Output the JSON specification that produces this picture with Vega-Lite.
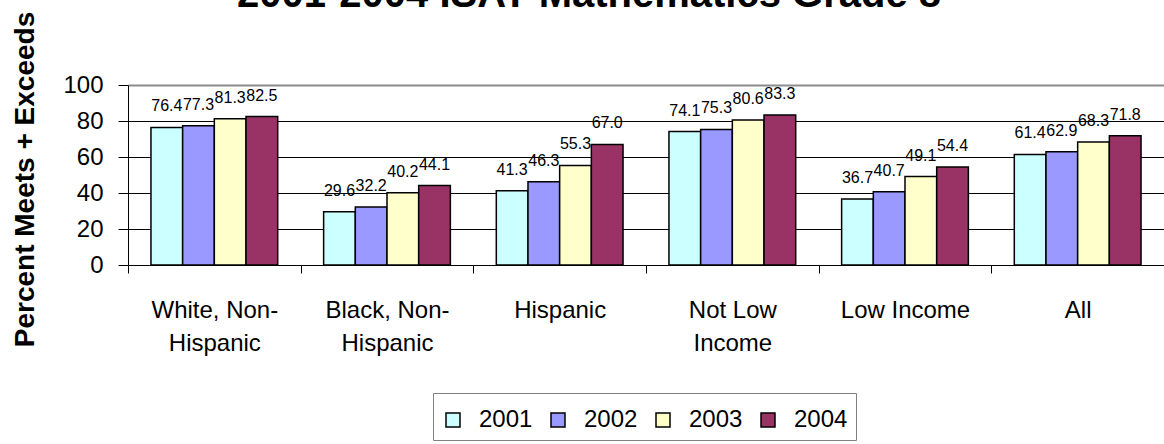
{
  "$schema": "https://vega.github.io/schema/vega-lite/v6.json",
  "autosize": {"type": "none"},
  "padding": {"left": 128, "top": 85, "right": 0, "bottom": 179},
  "width": 1036,
  "height": 180,
  "background": "white",
  "title": {
    "text": "2001-2004 ISAT Mathematics Grade 8",
    "font": "Liberation Sans",
    "fontSize": 40,
    "fontWeight": "bold",
    "color": "black",
    "anchor": "middle",
    "frame": "group",
    "baseline": "alphabetic",
    "offset": -36,
    "dx": -57
  },
  "data": {
    "values": [
      {"group": "White, Non-Hispanic", "year": "2001", "value": 76.4},
      {"group": "White, Non-Hispanic", "year": "2002", "value": 77.3},
      {"group": "White, Non-Hispanic", "year": "2003", "value": 81.3},
      {"group": "White, Non-Hispanic", "year": "2004", "value": 82.5},
      {"group": "Black, Non-Hispanic", "year": "2001", "value": 29.6},
      {"group": "Black, Non-Hispanic", "year": "2002", "value": 32.2},
      {"group": "Black, Non-Hispanic", "year": "2003", "value": 40.2},
      {"group": "Black, Non-Hispanic", "year": "2004", "value": 44.1},
      {"group": "Hispanic", "year": "2001", "value": 41.3},
      {"group": "Hispanic", "year": "2002", "value": 46.3},
      {"group": "Hispanic", "year": "2003", "value": 55.3},
      {"group": "Hispanic", "year": "2004", "value": 67.0},
      {"group": "Not Low Income", "year": "2001", "value": 74.1},
      {"group": "Not Low Income", "year": "2002", "value": 75.3},
      {"group": "Not Low Income", "year": "2003", "value": 80.6},
      {"group": "Not Low Income", "year": "2004", "value": 83.3},
      {"group": "Low Income", "year": "2001", "value": 36.7},
      {"group": "Low Income", "year": "2002", "value": 40.7},
      {"group": "Low Income", "year": "2003", "value": 49.1},
      {"group": "Low Income", "year": "2004", "value": 54.4},
      {"group": "All", "year": "2001", "value": 61.4},
      {"group": "All", "year": "2002", "value": 62.9},
      {"group": "All", "year": "2003", "value": 68.3},
      {"group": "All", "year": "2004", "value": 71.8}
    ]
  },
  "encoding": {
    "x": {
      "field": "group",
      "type": "nominal",
      "sort": null,
      "scale": {"paddingInner": 0.266, "paddingOuter": 0.133},
      "axis": {
        "title": null,
        "labelAngle": 0,
        "labelFontSize": 24,
        "labelFont": "Liberation Sans",
        "labelColor": "black",
        "labelBaseline": "top",
        "labelLineHeight": 33,
        "labelPadding": 25,
        "tickSize": 8,
        "tickColor": "black",
        "tickOffset": -86.3,
        "labelOffset": 86.3,
        "domainColor": "black",
        "domainWidth": 1,
        "grid": false,
        "labelExpr": "datum.value == 'Not Low Income' ? ['Not Low', 'Income'] : (indexof(datum.value, 'Non-') > 0 ? [slice(datum.value, 0, indexof(datum.value, 'Non-') + 4), slice(datum.value, indexof(datum.value, 'Non-') + 4)] : datum.value)"
      }
    },
    "xOffset": {"field": "year", "type": "nominal", "scale": {"paddingInner": 0, "paddingOuter": 0}},
    "y": {
      "field": "value",
      "type": "quantitative",
      "scale": {"domain": [0, 100], "nice": false},
      "axis": {
        "title": "Percent Meets + Exceeds",
        "titleFont": "Liberation Sans",
        "titleFontSize": 28,
        "titleFontWeight": "bold",
        "titleColor": "black",
        "titleAngle": -90,
        "titleX": -95,
        "titleY": 94,
        "titleAlign": "center",
        "titleBaseline": "alphabetic",
        "values": [0, 20, 40, 60, 80, 100],
        "labelFontSize": 24,
        "labelFont": "Liberation Sans",
        "labelColor": "black",
        "labelPadding": 15,
        "tickSize": 10,
        "tickColor": "black",
        "domainColor": "black",
        "grid": true,
        "gridColor": {"condition": {"test": "datum.value === 100", "value": "#8c8c8c"}, "value": "black"},
        "gridWidth": {"condition": {"test": "datum.value === 100", "value": 2}, "value": 1},
        "gridOpacity": 1
      }
    }
  },
  "layer": [
    {
      "mark": {"type": "bar", "stroke": "black", "strokeWidth": 1.5},
      "encoding": {
        "color": {
          "field": "year",
          "type": "nominal",
          "scale": {"domain": ["2001", "2002", "2003", "2004"], "range": ["#CCFFFF", "#9999FF", "#FFFFCC", "#993366"]},
          "legend": {
            "title": " ",
            "titleFontSize": 7,
            "titlePadding": 0,
            "orient": "none",
            "legendX": 305,
            "legendY": 308,
            "direction": "horizontal",
            "columns": 4,
            "symbolType": "square",
            "symbolSize": 196,
            "symbolStrokeColor": "black",
            "symbolStrokeWidth": 1.5,
            "symbolOpacity": 1,
            "labelFontSize": 24,
            "labelFont": "Liberation Sans",
            "labelColor": "black",
            "labelOffset": 14,
            "columnPadding": 13,
            "padding": 8,
            "strokeColor": "#808080",
            "fillColor": "white"
          }
        }
      }
    },
    {
      "mark": {"type": "text", "baseline": "alphabetic", "align": "center", "dy": -16, "fontSize": 16, "font": "Liberation Sans", "color": "black"},
      "encoding": {
        "text": {"field": "value", "type": "quantitative", "format": ".1f"}
      }
    }
  ],
  "config": {
    "view": {"stroke": null}
  }
}
